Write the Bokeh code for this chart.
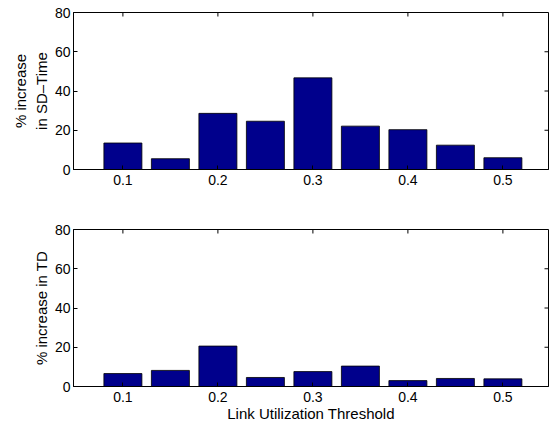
import math
from bokeh.plotting import figure
from bokeh.models import LinearAxis, FixedTicker, Range1d, ColumnDataSource, Title
from bokeh.layouts import column
from bokeh.embed import file_html
from bokeh.resources import INLINE

thresholds = [0.10, 0.15, 0.20, 0.25, 0.30, 0.35, 0.40, 0.45, 0.50]
sd_time_increase = [13.5, 5.5, 28.6, 24.6, 46.7, 22.1, 20.3, 12.4, 6.0]
td_increase = [6.6, 8.2, 20.6, 4.6, 7.6, 10.4, 3.0, 4.1, 3.9]
x_ticks = [0.1, 0.2, 0.3, 0.4, 0.5]
x_tick_labels = ["0.1", "0.2", "0.3", "0.4", "0.5"]
y_ticks = [0, 20, 40, 60, 80]
y_tick_labels = ["0", "20", "40", "60", "80"]
X_MIN, X_MAX = 0.048, 0.548
Y_MIN, Y_MAX = 0, 80

FONT = "Liberation Sans"
TICK_FS = "14px"
LABEL_FS = "15px"
BAR_COLOR = "#00008C"


def make_fig(values, ylabel_lines, xlabel, min_top, min_bottom):
    p = figure(frame_width=475, frame_height=157, output_backend="svg",
               toolbar_location=None, x_axis_type=None, y_axis_type=None,
               min_border_left=73, min_border_right=3,
               min_border_top=min_top, min_border_bottom=min_bottom)
    p.x_range = Range1d(X_MIN, X_MAX)
    p.y_range = Range1d(Y_MIN, Y_MAX)
    p.xgrid.visible = False
    p.ygrid.visible = False
    p.outline_line_color = "black"
    p.outline_line_width = 1
    p.background_fill_color = "white"
    p.border_fill_color = "white"

    src = ColumnDataSource(dict(x=thresholds, top=values))
    p.vbar(x="x", top="top", bottom=0, width=0.04, source=src,
           fill_color=BAR_COLOR, line_color="black", line_width=0.8)

    # inward ticks on the top and right edges (box on)
    p.ray(x=x_ticks, y=[Y_MAX] * len(x_ticks), length=4, length_units="screen",
          angle=-math.pi / 2, line_color="black", line_width=1)
    p.ray(x=[X_MAX] * len(y_ticks), y=y_ticks, length=4, length_units="screen",
          angle=math.pi, line_color="black", line_width=1)

    def style(ax, labels):
        ax.major_tick_in = 4
        ax.major_tick_out = 0
        ax.minor_tick_in = 0
        ax.minor_tick_out = 0
        ax.axis_line_color = "black"
        ax.major_tick_line_color = "black"
        ax.major_label_text_font = FONT
        ax.major_label_text_font_size = TICK_FS
        ax.major_label_text_color = "black"
        ax.major_label_overrides = labels
        ax.axis_label_text_font = FONT
        ax.axis_label_text_font_size = LABEL_FS
        ax.axis_label_text_font_style = "normal"
        ax.axis_label_text_color = "black"

    xb = LinearAxis(ticker=FixedTicker(ticks=x_ticks))
    style(xb, {t: l for t, l in zip(x_ticks, x_tick_labels)})
    xb.major_label_standoff = 5
    if xlabel:
        xb.axis_label = xlabel
        xb.axis_label_standoff = 0
    p.add_layout(xb, "below")

    yl = LinearAxis(ticker=FixedTicker(ticks=y_ticks))
    style(yl, {t: l for t, l in zip(y_ticks, y_tick_labels)})
    yl.major_label_standoff = 3
    yl.axis_label = ylabel_lines[-1]
    yl.axis_label_standoff = 2
    p.add_layout(yl, "left")

    for line in reversed(ylabel_lines[:-1]):
        t = Title(text=line, align="center", text_font=FONT,
                  text_font_size=LABEL_FS, text_font_style="normal",
                  text_color="black", standoff=2, offset=0)
        p.add_layout(t, "left")
    return p


p1 = make_fig(sd_time_increase, ["% increase", "in SD\u2013Time"], None, 12, 38)
p2 = make_fig(td_increase, ["% increase in TD"], "Link Utilization Threshold", 22, 36)

layout = column(p1, p2, spacing=0)
open("out.html", "w").write(file_html(layout, INLINE))
